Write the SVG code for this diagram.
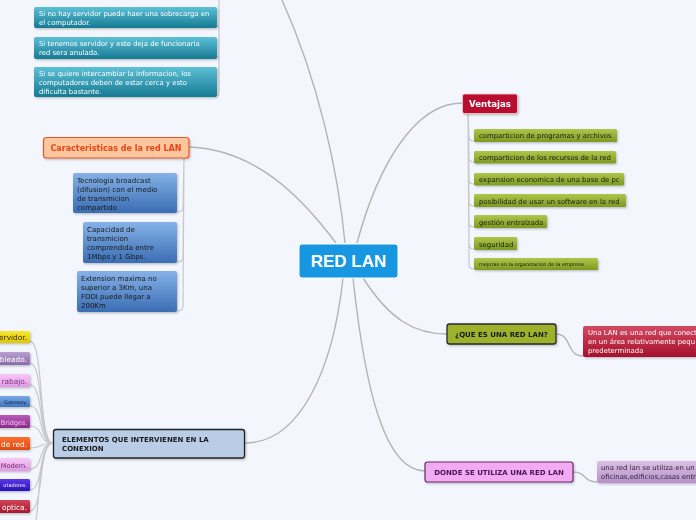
<svg xmlns="http://www.w3.org/2000/svg" width="696" height="520" viewBox="0 0 696 520">
<defs>
<style>
.t{font-family:"DejaVu Sans","Verdana",sans-serif;}
.w{fill:#ffffff;}
.k{fill:#1a1a1a;}
.con{fill:none;stroke:#b4b4b4;stroke-width:1.4;}
.br{fill:none;stroke:#c8c8cc;stroke-width:1.2;}
</style>
<linearGradient id="gTeal" x1="0" y1="0" x2="0" y2="1"><stop offset="0" stop-color="#5cc0d6"/><stop offset="1" stop-color="#167a93"/></linearGradient>
<linearGradient id="gBlue" x1="0" y1="0" x2="0" y2="1"><stop offset="0" stop-color="#86b2e8"/><stop offset="1" stop-color="#3a6db3"/></linearGradient>
<linearGradient id="gGreen" x1="0" y1="0" x2="0" y2="1"><stop offset="0" stop-color="#b0c64a"/><stop offset="1" stop-color="#7c9a22"/></linearGradient>
<linearGradient id="gRed" x1="0" y1="0" x2="0" y2="1"><stop offset="0" stop-color="#d24a62"/><stop offset="1" stop-color="#a6102c"/></linearGradient>
<linearGradient id="gLilac" x1="0" y1="0" x2="0" y2="1"><stop offset="0" stop-color="#dcc0e4"/><stop offset="1" stop-color="#b890c8"/></linearGradient>
<linearGradient id="gYel" x1="0" y1="0" x2="0" y2="1"><stop offset="0" stop-color="#f8e830"/><stop offset="1" stop-color="#e0c800"/></linearGradient>
<linearGradient id="gPur" x1="0" y1="0" x2="0" y2="1"><stop offset="0" stop-color="#b8a0d0"/><stop offset="1" stop-color="#8a6aa8"/></linearGradient>
<linearGradient id="gPink" x1="0" y1="0" x2="0" y2="1"><stop offset="0" stop-color="#f8c8f8"/><stop offset="1" stop-color="#e498e8"/></linearGradient>
<linearGradient id="gGate" x1="0" y1="0" x2="0" y2="1"><stop offset="0" stop-color="#7aaae6"/><stop offset="1" stop-color="#3f74bc"/></linearGradient>
<linearGradient id="gMag" x1="0" y1="0" x2="0" y2="1"><stop offset="0" stop-color="#b85cb8"/><stop offset="1" stop-color="#8a2a8a"/></linearGradient>
<linearGradient id="gOr" x1="0" y1="0" x2="0" y2="1"><stop offset="0" stop-color="#fa7030"/><stop offset="1" stop-color="#e04a10"/></linearGradient>
<linearGradient id="gVio" x1="0" y1="0" x2="0" y2="1"><stop offset="0" stop-color="#5a3ae8"/><stop offset="1" stop-color="#2a10b8"/></linearGradient>
<linearGradient id="gCri" x1="0" y1="0" x2="0" y2="1"><stop offset="0" stop-color="#d04458"/><stop offset="1" stop-color="#a81a30"/></linearGradient>
<filter id="sh" x="-10%" y="-20%" width="130%" height="160%"><feDropShadow dx="1" dy="1.2" stdDeviation="0.8" flood-color="#000" flood-opacity="0.25"/></filter>
</defs>
<rect x="0" y="0" width="696" height="520" fill="#f3f6fd"/>

<g id="connectors">
<path class="con" d="M345,243 C338,170 318,80 282,0"/>
<path class="con" d="M357,243 C378,165 415,103 462,103"/>
<path class="con" d="M190,147 C255,150 300,195 336,243"/>
<path class="con" d="M343,278 C333,370 300,443 245,443"/>
<path class="con" d="M353,278 C365,390 385,471 425,471"/>
<path class="con" d="M363,278 C390,320 415,334 447,334"/>
<path class="con" d="M556,334 C572,334 566,356 583,356"/>
<path class="con" d="M573,472 C587,472 583,482 597,482"/>
<path class="br" d="M219,0 L219,22 Q219,27 217,27 M219,0 L219,53 Q219,58 217,58 M219,0 L219,91 Q219,96 217,96"/>
<path class="br" d="M184,158 L183,207 Q183,212 177,212 M184,158 L183,257 Q183,262 177,262 M184,158 L183,306 Q183,311 177,311"/>
<path class="br" d="M468,113 L469,137 Q469,141 474,141 M468,113 L469,158 Q469,162 474,162 M468,113 L469,180 Q469,184 474,184 M468,113 L469,201 Q469,206 474,206 M468,113 L469,223 Q469,227 474,227 M468,113 L469,244 Q469,249 474,249 M468,113 L469,265 Q469,269 474,269"/>
<path class="br" d="M53,443 C38,443 44,341 30,341 M53,443 C38,443 44,363 30,363 M53,443 C38,443 44,385 30,385 M53,443 C38,443 44,406 30,406 M53,443 C38,443 44,426 30,426 M53,443 C38,443 44,448 30,448 M53,443 C38,443 44,469 30,469 M53,443 C38,443 44,490 30,490 M53,443 C38,443 44,511 30,511 M53,443 C38,443 40,500 36,520"/>
</g>

<g id="n-center">
<rect x="299" y="244" width="99" height="34" rx="3" fill="#1796e2" stroke="#ffffff" stroke-width="1"/>
<text x="348.5" y="267" text-anchor="middle" font-family="Liberation Sans, Arial, sans-serif" font-weight="bold" font-size="17" fill="#ffffff">RED LAN</text>
</g>

<g id="n-desv1" filter="url(#sh)">
<rect x="34" y="7" width="183" height="21" rx="2" fill="url(#gTeal)"/>
<text class="t w" font-size="6.9" x="39" y="16">Si no hay servidor puede haer una sobrecarga en</text>
<text class="t w" font-size="6.9" x="39" y="25">el computador.</text>
</g>
<g id="n-desv2" filter="url(#sh)">
<rect x="34" y="37" width="183" height="22" rx="2" fill="url(#gTeal)"/>
<text class="t w" font-size="6.9" x="39" y="46">Si tenemos servidor y este deja de funcionaria</text>
<text class="t w" font-size="6.9" x="39" y="55">red sera anulada.</text>
</g>
<g id="n-desv3" filter="url(#sh)">
<rect x="34" y="67" width="183" height="30" rx="2" fill="url(#gTeal)"/>
<text class="t w" font-size="6.9" x="39" y="75.5">Si se quiere intercambiar la informacion, los</text>
<text class="t w" font-size="6.9" x="39" y="84.5">computadores deben de estar cerca y esto</text>
<text class="t w" font-size="6.9" x="39" y="93.5">dificulta bastante.</text>
</g>

<g id="n-caract" filter="url(#sh)">
<rect x="43.5" y="137.5" width="145.5" height="20.5" rx="3" fill="#fcc79e" stroke="#ea5428" stroke-width="1.2"/>
<text class="t" font-size="8" font-weight="bold" fill="#ea4418" x="116" y="150.5" text-anchor="middle">Caracteristicas de la red LAN</text>
</g>
<g id="n-c1" filter="url(#sh)">
<rect x="73" y="173" width="104" height="40" rx="2" fill="url(#gBlue)"/>
<text class="t k" font-size="7" x="77" y="182.5">Tecnologia broadcast</text>
<text class="t k" font-size="7" x="77" y="191.5">(difusion) con el medio</text>
<text class="t k" font-size="7" x="77" y="200.5">de transmicion</text>
<text class="t k" font-size="7" x="77" y="209.5">compartido</text>
</g>
<g id="n-c2" filter="url(#sh)">
<rect x="83" y="222" width="94" height="41" rx="2" fill="url(#gBlue)"/>
<text class="t k" font-size="7" x="87" y="231.5">Capacidad de</text>
<text class="t k" font-size="7" x="87" y="240.5">transmicion</text>
<text class="t k" font-size="7" x="87" y="249.5">comprendida entre</text>
<text class="t k" font-size="7" x="87" y="258.5">1Mbps y 1 Gbps.</text>
</g>
<g id="n-c3" filter="url(#sh)">
<rect x="77" y="271" width="100" height="41" rx="2" fill="url(#gBlue)"/>
<text class="t k" font-size="7" x="81" y="280.5">Extension maxima no</text>
<text class="t k" font-size="7" x="81" y="289.5">superior a 3Km, una</text>
<text class="t k" font-size="7" x="81" y="298.5">FDDI puede llegar a</text>
<text class="t k" font-size="7" x="81" y="307.5">200Km</text>
</g>

<g id="n-ventajas" filter="url(#sh)">
<rect x="462.5" y="94" width="55" height="19.5" rx="2" fill="#b8102e" stroke="#f0d0d8" stroke-width="0.8"/>
<text class="t w" font-size="8.6" font-weight="bold" x="490" y="107" text-anchor="middle">Ventajas</text>
</g>
<g id="n-v1" filter="url(#sh)"><rect x="474" y="129" width="143" height="13" rx="1.5" fill="url(#gGreen)"/><text class="t k" font-size="6.9" x="479" y="138.3">comparticion de programas y archivos</text></g>
<g id="n-v2" filter="url(#sh)"><rect x="474" y="151" width="142" height="12.5" rx="1.5" fill="url(#gGreen)"/><text class="t k" font-size="6.9" x="479" y="160.3">comparticion de los recursos de la red</text></g>
<g id="n-v3" filter="url(#sh)"><rect x="474" y="173" width="150" height="12.5" rx="1.5" fill="url(#gGreen)"/><text class="t k" font-size="6.9" x="479" y="182.3">expansion economica de una base de pc</text></g>
<g id="n-v4" filter="url(#sh)"><rect x="474" y="194" width="152" height="13" rx="1.5" fill="url(#gGreen)"/><text class="t k" font-size="6.9" x="479" y="203.5">posibilidad de usar un software en la red</text></g>
<g id="n-v5" filter="url(#sh)"><rect x="474" y="215" width="73" height="13" rx="1.5" fill="url(#gGreen)"/><text class="t k" font-size="6.9" x="479" y="224.5">gestión entralzada</text></g>
<g id="n-v6" filter="url(#sh)"><rect x="474" y="237" width="43" height="13" rx="1.5" fill="url(#gGreen)"/><text class="t k" font-size="6.9" x="479" y="246.5">seguridad</text></g>
<g id="n-v7" filter="url(#sh)"><rect x="474" y="258" width="124" height="12" rx="1.5" fill="url(#gGreen)"/><text class="t k" font-size="5" x="479" y="266">mejoras en la organizacion de la empresa</text></g>

<g id="n-que" filter="url(#sh)">
<rect x="447" y="324" width="109" height="20" rx="2.5" fill="#9db22c" stroke="#2a2a2a" stroke-width="1.3"/>
<text class="t k" font-size="7" font-weight="bold" x="501.5" y="337" text-anchor="middle">¿QUE ES UNA RED LAN?</text>
</g>
<g id="n-que1" filter="url(#sh)">
<rect x="583" y="326" width="120" height="31" rx="2" fill="url(#gRed)"/>
<text class="t w" font-size="6.9" x="588" y="334.5">Una LAN es una red que conect</text>
<text class="t w" font-size="6.9" x="588" y="343.5">en un área relativamente pequ</text>
<text class="t w" font-size="6.9" x="588" y="352.5">predeterminada</text>
</g>

<g id="n-donde" filter="url(#sh)">
<rect x="425" y="462" width="148" height="20" rx="2.5" fill="#f2aaf2" stroke="#6a2a6a" stroke-width="1.2"/>
<text class="t" font-size="7" font-weight="bold" fill="#4a1452" x="499" y="474.5" text-anchor="middle">DONDE SE UTILIZA UNA RED LAN</text>
</g>
<g id="n-donde1" filter="url(#sh)">
<rect x="597" y="461" width="110" height="22" rx="2" fill="url(#gLilac)"/>
<text class="t" font-size="6.9" fill="#2a2a3a" x="601" y="469.5">una red lan se utiliza en un</text>
<text class="t" font-size="6.9" fill="#2a2a3a" x="601" y="479">oficinas,edificios,casas entr</text>
</g>

<g id="n-elem" filter="url(#sh)">
<rect x="53.5" y="429.5" width="191" height="28.5" rx="2.5" fill="#b9cde7" stroke="#222222" stroke-width="1.3"/>
<text class="t k" font-size="7" font-weight="bold" x="62" y="441.5">ELEMENTOS QUE INTERVIENEN EN LA</text>
<text class="t k" font-size="7" font-weight="bold" x="62" y="450.5">CONEXION</text>
</g>
<g id="n-e1" filter="url(#sh)"><rect x="-5" y="331" width="35" height="12" rx="1.5" fill="url(#gYel)"/><text class="t" font-size="7.4" fill="#3a3000" x="27" y="340.3" text-anchor="end">ervidor.</text></g>
<g id="n-e2" filter="url(#sh)"><rect x="-5" y="352" width="35" height="13" rx="1.5" fill="url(#gPur)"/><text class="t w" font-size="7.4" x="27" y="361.8" text-anchor="end">bleado.</text></g>
<g id="n-e3" filter="url(#sh)"><rect x="-5" y="374" width="35" height="13" rx="1.5" fill="url(#gPink)"/><text class="t" font-size="7.4" fill="#7a3a7a" x="27" y="383.8" text-anchor="end">rabajo.</text></g>
<g id="n-e4" filter="url(#sh)"><rect x="-5" y="396" width="35" height="11" rx="1.5" fill="url(#gGate)"/><text class="t" font-size="5" fill="#10204a" x="27" y="403.7" text-anchor="end">Gateway.</text></g>
<g id="n-e5" filter="url(#sh)"><rect x="-5" y="415" width="35" height="13" rx="1.5" fill="url(#gMag)"/><text class="t" font-size="6.5" fill="#f4c8f4" x="27.5" y="424.5" text-anchor="end">Bridges.</text></g>
<g id="n-e6" filter="url(#sh)"><rect x="-5" y="437" width="35" height="13" rx="1.5" fill="url(#gOr)"/><text class="t w" font-size="7.4" x="27" y="446.8" text-anchor="end">de red.</text></g>
<g id="n-e7" filter="url(#sh)"><rect x="-5" y="458" width="35" height="13" rx="1.5" fill="url(#gPink)"/><text class="t" font-size="6.7" fill="#6a2a6a" x="27.5" y="467.5" text-anchor="end">Modem.</text></g>
<g id="n-e8" filter="url(#sh)"><rect x="-5" y="479" width="35" height="12" rx="1.5" fill="url(#gVio)"/><text class="t w" font-size="5" x="27" y="487.2" text-anchor="end">utadores.</text></g>
<g id="n-e9" filter="url(#sh)"><rect x="-5" y="500" width="35" height="13" rx="1.5" fill="url(#gCri)"/><text class="t w" font-size="7.4" x="27" y="509.8" text-anchor="end">optica.</text></g>
</svg>
